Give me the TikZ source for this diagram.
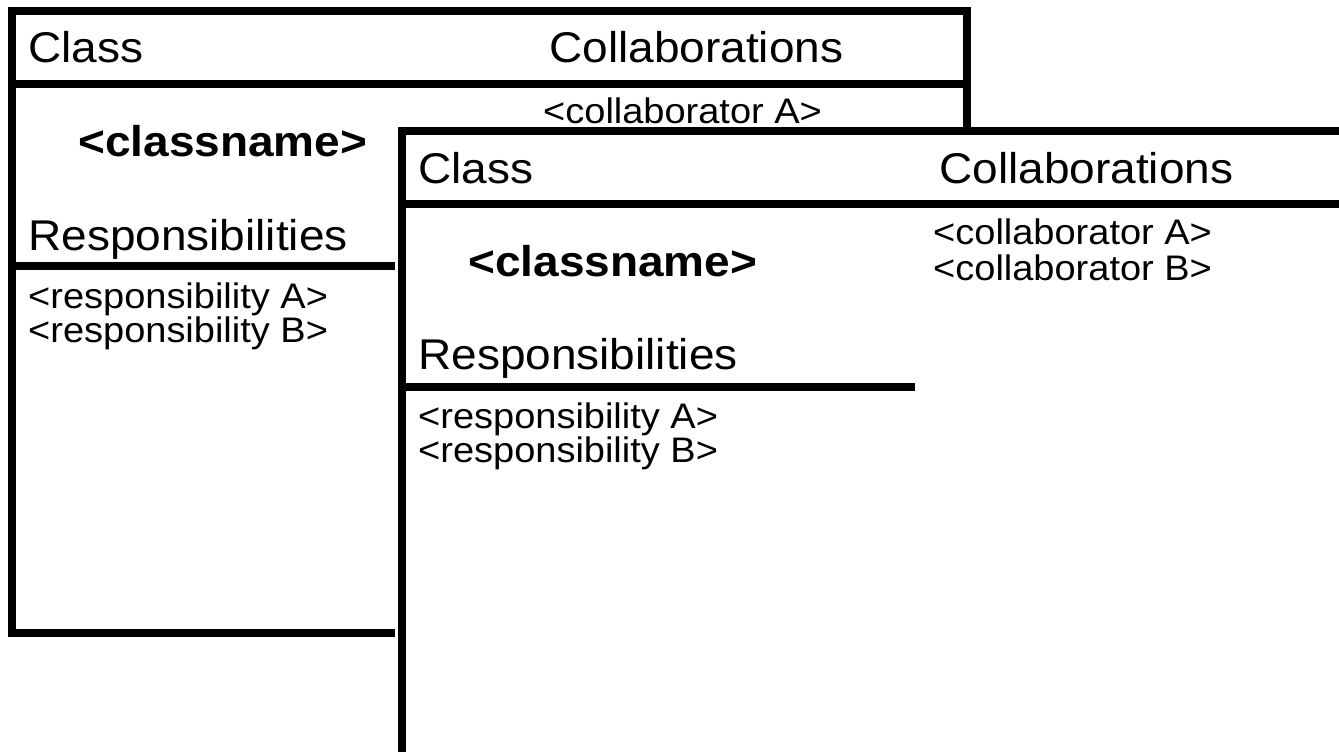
\documentclass[tikz,border=0pt]{standalone}
\usepackage{fontspec}
\setmainfont{Liberation Sans}[FakeStretch=1.07]
\begin{document}
\begin{tikzpicture}[x=1pt,y=-1pt, line join=miter,
  cardline/.style={line width=8pt, draw=black},
  bigtext/.style={anchor=base west, inner sep=0pt, font=\fontsize{43}{43}\selectfont},
  boldtext/.style={anchor=base west, inner sep=0pt, font=\fontsize{43}{43}\selectfont\bfseries},
  smalltext/.style={anchor=base west, inner sep=0pt, font=\fontsize{35.5}{35.5}\selectfont}]
\useasboundingbox (0,0) rectangle (1339,752);
\fill[white] (0,0) rectangle (1339,752);

% ---------- back card ----------
\draw[cardline] (12,11) rectangle (967,633);
\draw[cardline] (12,84) -- (967,84);
\draw[cardline] (12,266) -- (525,266);
\node[bigtext] (bclass) at (28,63) {Class};
\node[bigtext] (bcollab) at (549,63) {Collaborations};
\node[boldtext] (bname) at (78,156) {<classname>};
\node[bigtext] (bresp) at (28,250) {Responsibilities};
\node[smalltext] (bra) at (28,308) {<responsibility A>};
\node[smalltext] (brb) at (28,342) {<responsibility B>};
\node[smalltext] (bca) at (543,123) {<collaborator A>};

% ---------- front card ----------
\fill[white] (395,131) rectangle (1420,800);
\draw[cardline] (402,131) rectangle (1420,757);
\draw[cardline] (402,204) -- (1420,204);
\draw[cardline] (402,387) -- (915,387);
\node[bigtext] (fclass) at (418,183) {Class};
\node[bigtext] (fcollab) at (939,183) {Collaborations};
\node[boldtext] (fname) at (468,276) {<classname>};
\node[bigtext] (fresp) at (418,369) {Responsibilities};
\node[smalltext] (fra) at (418,428) {<responsibility A>};
\node[smalltext] (frb) at (418,462) {<responsibility B>};
\node[smalltext] (fca) at (933,244) {<collaborator A>};
\node[smalltext] (fcb) at (933,280) {<collaborator B>};
\end{tikzpicture}
\end{document}
